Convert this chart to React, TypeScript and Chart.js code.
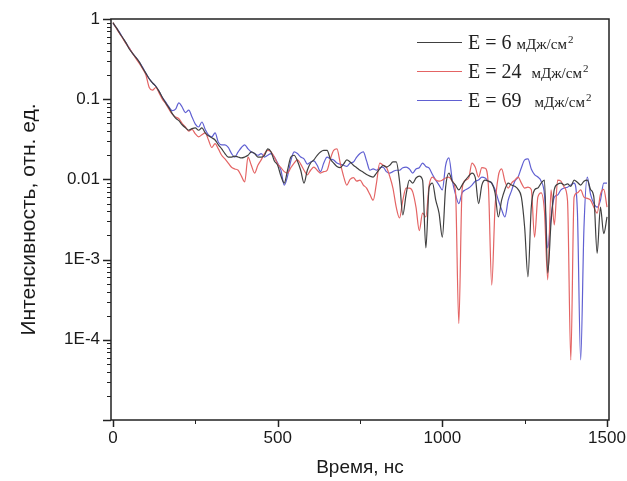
import React, { useEffect, useRef } from "react";
import { Chart, registerables } from "chart.js";

Chart.register(...registerables);

// ---- data ----
const TIME_STEP_NS = 10;

const e6 = [
  0.9, 0.78, 0.67, 0.58, 0.5, 0.42, 0.37, 0.33, 0.29, 0.245,
  0.21, 0.18, 0.16, 0.145, 0.125, 0.105, 0.09, 0.078, 0.066, 0.058,
  0.054, 0.048, 0.044, 0.041, 0.043, 0.044, 0.041, 0.044, 0.038, 0.035,
  0.033, 0.031, 0.027, 0.024, 0.021, 0.019, 0.019, 0.0195, 0.019, 0.0185,
  0.019, 0.02, 0.022, 0.021, 0.019, 0.019, 0.02, 0.024, 0.022, 0.017,
  0.015, 0.011, 0.009, 0.013, 0.019, 0.02, 0.017, 0.013, 0.009, 0.013,
  0.016, 0.0175, 0.02, 0.022, 0.023, 0.023, 0.018, 0.016, 0.0145, 0.014,
  0.0155, 0.0175, 0.0165, 0.015, 0.014, 0.013, 0.0123, 0.0115, 0.011, 0.0107,
  0.012, 0.0135, 0.015, 0.0142, 0.015, 0.0165, 0.0165, 0.0095, 0.0036, 0.0065,
  0.0098, 0.009, 0.0104, 0.011, 0.0098, 0.0014, 0.008, 0.009, 0.0055, 0.0038,
  0.0019, 0.008, 0.012, 0.0095, 0.0085, 0.0074, 0.0085, 0.0098, 0.011, 0.012,
  0.0105, 0.005, 0.0085, 0.0098, 0.0095, 0.009, 0.0068, 0.0034, 0.0055, 0.0075,
  0.009, 0.0085, 0.0082, 0.0075, 0.006, 0.0025, 0.00061, 0.0045, 0.0074, 0.0078,
  0.009, 0.0098, 0.00068, 0.0029, 0.0075, 0.0087, 0.009, 0.0085, 0.0088, 0.0082,
  0.0098, 0.0092, 0.0085, 0.0095, 0.0098, 0.0075, 0.006, 0.0012, 0.0045, 0.0021,
  0.0034,
];

const e24 = [
  0.9, 0.77, 0.66, 0.57, 0.49, 0.43, 0.37, 0.32, 0.28, 0.24,
  0.2, 0.14, 0.13, 0.14, 0.12, 0.1, 0.088, 0.075, 0.065, 0.06,
  0.057, 0.05, 0.045, 0.04, 0.042, 0.037, 0.034, 0.036, 0.038, 0.031,
  0.025, 0.028, 0.024, 0.02, 0.018, 0.016, 0.0142, 0.0135, 0.013, 0.011,
  0.0093, 0.019, 0.015, 0.012, 0.015, 0.0175, 0.021, 0.023, 0.022, 0.019,
  0.0155, 0.014, 0.0125, 0.012, 0.014, 0.016, 0.0175, 0.0155, 0.013, 0.0114,
  0.013, 0.0142, 0.013, 0.012, 0.0125, 0.013, 0.018, 0.023, 0.024, 0.016,
  0.011, 0.0085, 0.01, 0.0105, 0.0095, 0.0098, 0.0085, 0.0078, 0.0065, 0.0055,
  0.009, 0.016, 0.015, 0.0142, 0.011, 0.0078, 0.0045, 0.0033, 0.0055, 0.0078,
  0.0078, 0.007, 0.0045, 0.0023, 0.0038, 0.0034, 0.0085, 0.0107, 0.0098, 0.0095,
  0.0098, 0.0104, 0.0107, 0.0095, 0.007, 0.00016, 0.0075, 0.0098, 0.0104, 0.016,
  0.0142, 0.0107, 0.014, 0.0138, 0.008, 0.00048, 0.0045, 0.011, 0.0135, 0.0095,
  0.0078, 0.009, 0.0098, 0.0107, 0.009, 0.0078, 0.008, 0.0075, 0.0019, 0.006,
  0.0068, 0.004, 0.00056, 0.0074, 0.0027, 0.0098, 0.0095, 0.008, 0.0055, 0.000056,
  0.006, 0.0068, 0.0074, 0.006, 0.0058, 0.0055, 0.0045, 0.0038, 0.0065, 0.0075,
  0.0045,
];

const e69 = [
  0.88, 0.78, 0.68, 0.58, 0.5, 0.43, 0.37, 0.33, 0.29, 0.25,
  0.21, 0.18, 0.16, 0.145, 0.125, 0.105, 0.092, 0.08, 0.072, 0.075,
  0.09, 0.08, 0.068, 0.073, 0.06, 0.049, 0.045, 0.052, 0.042, 0.036,
  0.034, 0.038, 0.029, 0.027, 0.027, 0.025, 0.021, 0.019, 0.022, 0.025,
  0.027, 0.024, 0.022, 0.021, 0.02, 0.021, 0.019, 0.02, 0.021, 0.019,
  0.016, 0.013, 0.0085, 0.011, 0.017, 0.022, 0.021, 0.019, 0.018, 0.0155,
  0.0165, 0.017, 0.015, 0.0125, 0.016, 0.019, 0.018, 0.0175, 0.016, 0.0155,
  0.015, 0.0145, 0.016, 0.0165, 0.019, 0.021, 0.022, 0.017, 0.013, 0.0135,
  0.013, 0.014, 0.0142, 0.0125, 0.012, 0.0125, 0.013, 0.013, 0.014, 0.0142,
  0.0135, 0.012, 0.0135, 0.014, 0.016, 0.0145, 0.0138, 0.0115, 0.0098, 0.0085,
  0.0074, 0.015, 0.0185, 0.0098, 0.0065, 0.005, 0.0068, 0.0074, 0.0078, 0.0085,
  0.0095, 0.0098, 0.0107, 0.0104, 0.0095, 0.009, 0.0075, 0.0055, 0.0042, 0.0034,
  0.0055, 0.0072, 0.0095, 0.0107, 0.014, 0.0175, 0.018, 0.0135, 0.0115, 0.0107,
  0.0095, 0.0065, 0.0014, 0.0034, 0.006, 0.0064, 0.0074, 0.0078, 0.008, 0.0085,
  0.009, 0.004, 0.000056, 0.0025, 0.0107, 0.0065, 0.005, 0.0045, 0.0055, 0.009,
  0.009,
];

const times = e6.map((_, i) => i * TIME_STEP_NS);

const seriesLabels = ["E = 6", "E = 24", "E = 69"];
const seriesValues = [e6, e24, e69];
const seriesColors = ["#404040", "#e46464", "#6060d2"];
const unitText = "мДж/см";
const unitSup = "2";

const xTickValues = [0, 250, 500, 750, 1000, 1250, 1500];
const xTickLabels = ["0", "", "500", "", "1000", "", "1500"];
const yLabelValues = [1, 0.1, 0.01, 0.001, 0.0001];
const yTickLabels = ["1", "0.1", "0.01", "1E-3", "1E-4"];

const xTitle = "Время, нс";
const yTitle = "Интенсивность, отн. ед.";

// all minor/major tick values on the log axis (1..9 × 10^n)
const yTickValues: number[] = [];
for (let e = -5; e <= 0; e++) {
  for (let m = 1; m <= 9; m++) {
    const v = parseFloat((m * Math.pow(10, e)).toPrecision(6));
    if (v <= 1) yTickValues.push(v);
  }
}

const framePlugin = {
  id: "frameTicksLegend",
  afterDraw(chart: any) {
    const { ctx, chartArea: a, scales } = chart;
    const xs = scales.x;
    const ys = scales.y;
    ctx.save();
    // frame
    ctx.strokeStyle = "#222";
    ctx.lineWidth = 1.5;
    ctx.strokeRect(a.left, a.top, a.right - a.left, a.bottom - a.top);

    // y tick marks
    ys.ticks.forEach((t: any) => {
      const v = t.value;
      const lg = Math.log10(v);
      const major = Math.abs(lg - Math.round(lg)) < 1e-6;
      const py = Math.round(ys.getPixelForValue(v)) + 0.5;
      if (py < a.top - 1 || py > a.bottom + 1) return;
      ctx.lineWidth = major ? 1.5 : 1;
      const len = major ? 8 : 4;
      ctx.beginPath();
      ctx.moveTo(a.left - len, py);
      ctx.lineTo(a.left, py);
      ctx.stroke();
    });
    // x tick marks
    xs.ticks.forEach((t: any) => {
      const v = t.value;
      const major = v % 500 === 0;
      const px = Math.round(xs.getPixelForValue(v)) + 0.5;
      ctx.lineWidth = major ? 1.5 : 1;
      const len = major ? 7 : 4;
      ctx.beginPath();
      ctx.moveTo(px, a.bottom);
      ctx.lineTo(px, a.bottom + len);
      ctx.stroke();
    });

    // legend
    const gaps = [5, 10, 13];
    chart.data.datasets.forEach((ds: any, i: number) => {
      const y = a.top + 23 + i * 29;
      const x0 = a.right - 192;
      ctx.strokeStyle = ds.borderColor;
      ctx.lineWidth = 1.2;
      ctx.beginPath();
      ctx.moveTo(x0, y + 0.5);
      ctx.lineTo(x0 + 45, y + 0.5);
      ctx.stroke();
      ctx.fillStyle = "#222";
      ctx.textBaseline = "alphabetic";
      ctx.textAlign = "left";
      ctx.font = '20px "Liberation Serif"';
      const tx = x0 + 51;
      ctx.fillText(ds.label, tx, y + 7);
      const w = ctx.measureText(ds.label).width;
      ctx.font = '15px "Liberation Serif"';
      const ux = tx + w + gaps[i];
      ctx.fillText(unitText, ux, y + 7);
      const uw = ctx.measureText(unitText).width;
      ctx.font = '11px "Liberation Serif"';
      ctx.fillText(unitSup, ux + uw + 1, y + 1);
    });
    ctx.restore();
  },
};

export default function App() {
  const ref = useRef<HTMLCanvasElement | null>(null);

  useEffect(() => {
    if (!ref.current) return;
    const chart = new Chart(ref.current, {
      type: "line",
      data: {
        datasets: seriesValues.map((vals, i) => ({
          label: seriesLabels[i],
          data: vals.map((v, j) => ({ x: times[j], y: v })),
          borderColor: seriesColors[i],
          backgroundColor: seriesColors[i],
          borderWidth: 1.2,
          pointRadius: 0,
          cubicInterpolationMode: "monotone",
          fill: false,
        })),
      },
      options: {
        animation: false,
        responsive: false,
        events: [],
        layout: { padding: { left: 0, top: 19, right: 18, bottom: 0 } },
        plugins: {
          legend: { display: false },
          tooltip: { enabled: false },
        },
        scales: {
          x: {
            type: "linear",
            min: -6,
            max: 1506,
            grid: { display: false, drawTicks: false },
            border: { display: false },
            afterBuildTicks: (s: any) => {
              s.ticks = xTickValues.map((v) => ({ value: v }));
            },
            afterFit: (s: any) => {
              s.height = 61;
              s.paddingLeft = 0;
              s.paddingRight = 0;
            },
            ticks: {
              autoSkip: false,
              maxRotation: 0,
              padding: 8,
              color: "#1a1a1a",
              font: { family: '"Liberation Sans", Arial', size: 17 },
              callback: (v: any) => {
                const k = xTickValues.indexOf(Number(v));
                return k >= 0 ? xTickLabels[k] : "";
              },
            },
            title: {
              display: true,
              text: xTitle,
              color: "#1a1a1a",
              font: { family: '"Liberation Sans", Arial', size: 19 },
              padding: { top: 0, bottom: 2 },
            },
          },
          y: {
            type: "logarithmic",
            min: 0.00001,
            max: 1,
            grid: { display: false, drawTicks: false },
            border: { display: false },
            afterBuildTicks: (s: any) => {
              s.ticks = yTickValues.map((v) => ({ value: v }));
            },
            afterFit: (s: any) => {
              s.width = 111;
              s.paddingTop = 0;
              s.paddingBottom = 0;
            },
            ticks: {
              autoSkip: false,
              padding: 11,
              color: "#1a1a1a",
              font: { family: '"Liberation Sans", Arial', size: 17 },
              callback: (v: any) => {
                const n = Number(v);
                const k = yLabelValues.findIndex((q) => Math.abs(q - n) / q < 1e-6);
                return k >= 0 ? yTickLabels[k] : "";
              },
            },
            title: {
              display: true,
              text: yTitle,
              color: "#1a1a1a",
              font: { family: '"Liberation Sans", Arial', size: 21 },
              padding: { top: 17, bottom: 0 },
            },
          },
        },
      },
      plugins: [framePlugin],
    });
    return () => chart.destroy();
  }, []);

  return (
    <div style={{ position: "fixed", left: 0, top: 0, width: 627, height: 481, background: "#fff" }}>
      <canvas ref={ref} width={627} height={481} style={{ display: "block" }} />
    </div>
  );
}
